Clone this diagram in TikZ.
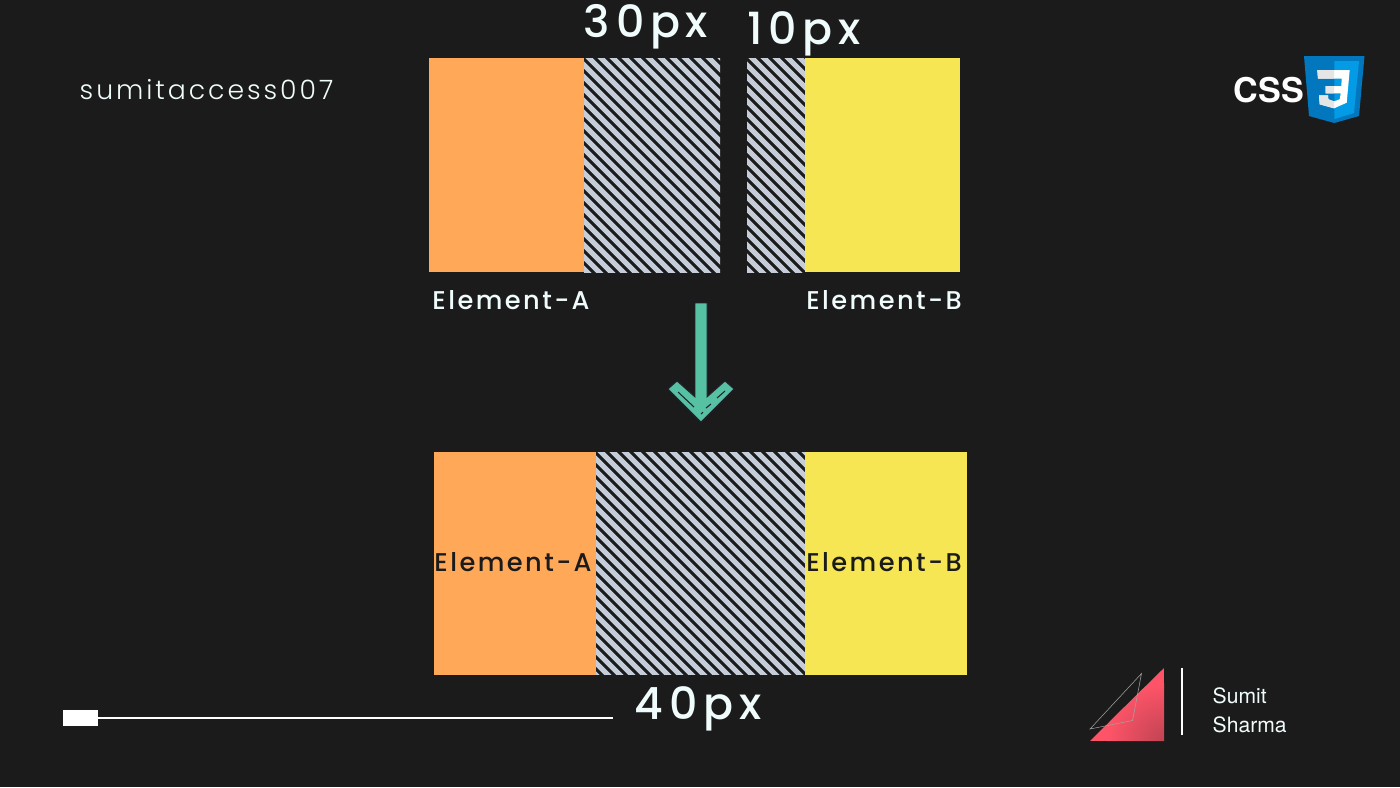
\documentclass[tikz,border=0pt]{standalone}
\usepackage{fontspec}
\setmainfont{Poppins}
\newfontfamily\wideA[LetterSpace=9.5,UprightFont={* Medium}]{Poppins}
\newfontfamily\wideB[LetterSpace=13,UprightFont={* Medium}]{Poppins}
\newfontfamily\wideC[LetterSpace=11,UprightFont={* Light}]{Poppins}
\newfontfamily\plainB{TeX Gyre Heros}
\definecolor{pagedark}{HTML}{1B1B1B}
\definecolor{orangeA}{HTML}{FFA858}
\definecolor{yellowB}{HTML}{F6E654}
\definecolor{stripe}{HTML}{C5CDD8}
\definecolor{arrowgreen}{HTML}{57C1A3}
\definecolor{arrowline}{HTML}{20222F}
\definecolor{cssdark}{HTML}{0277BD}
\definecolor{csslight}{HTML}{039BE5}
\definecolor{redmark}{HTML}{FF5468}
\definecolor{softwhite}{HTML}{F0FBFB}
\usetikzlibrary{calc}
\tikzset{
	block/.style={inner sep=0pt, outer sep=0pt, anchor=north west},
	hatch/.style={block, fill=pagedark, path picture={
		\foreach \i in {-30,...,60}
			\draw[stripe, line width=1.5pt]
			($(path picture bounding box.north west)+(\i*12+#1,-6)$) -- ++(300,300);
	}},
	labeltext/.style={text=softwhite, font=\wideA\fontsize{7.3pt}{9pt}\selectfont, inner sep=0pt},
	sizetext/.style={text=softwhite, font=\wideB\fontsize{12.6pt}{15pt}\selectfont, inner sep=0pt},
}
\begin{document}
\begin{tikzpicture}[x=0.01cm, y=-0.01cm]
	\useasboundingbox[fill=pagedark] (0,0) rectangle (1400,787);
	% top row
	\node[block, fill=orangeA, minimum width=155*0.01cm, minimum height=214*0.01cm] (topA) at (429,58) {};
	\node[hatch=-1, minimum width=136*0.01cm, minimum height=214*0.01cm] (topgapA) at (584,58) {};
	\node[hatch=-1, minimum width=58*0.01cm, minimum height=214*0.01cm] (topgapB) at (747,58) {};
	\node[block, fill=yellowB, minimum width=155*0.01cm, minimum height=214*0.01cm] (topB) at (805,58) {};
	\node[sizetext] (size30) at (646,27) {30px};
	\node[sizetext] (size10) at (804,34) {10px};
	\node[labeltext] (labelA) at (511,300.5) {Element-A};
	\node[labeltext] (labelB) at (884,300.5) {Element-B};
	% bottom row
	\node[block, fill=orangeA, minimum width=162*0.01cm, minimum height=222.5*0.01cm] (lowA) at (434,452) {};
	\node[hatch=-1, minimum width=209*0.01cm, minimum height=222.5*0.01cm] (lowgap) at (596,452) {};
	\node[block, fill=yellowB, minimum width=162*0.01cm, minimum height=222.5*0.01cm] (lowB) at (805,452) {};
	\node[labeltext, text=pagedark] (innerA) at (513,562.5) {Element-A};
	\node[labeltext, text=pagedark] (innerB) at (884,562.5) {Element-B};
	\node[sizetext] (size40) at (698,709) {40px};
	% arrow
	\draw[fill=arrowgreen, draw=arrowline, line width=0.25pt] (695,303) -- (707,303) -- (707,397) -- (725,381) -- (734,389) -- (701,422) -- (668,389) -- (677,381) -- (695,397) -- cycle;
	\draw[arrowline, line width=0.3pt] (678,392) -- (694,407) (717,398) -- (725,391) (706,408) -- (711,404) (701,414) -- (703,412);
	% top left and slider
	\node[text=softwhite, font=\wideC\fontsize{7.6pt}{9pt}\selectfont, inner sep=0pt, anchor=west] (handle) at (79,90) {sumitaccess007};
	\node[block, fill=white, minimum width=35*0.01cm, minimum height=16*0.01cm] (knob) at (63,710) {};
	\coordinate (track) at (613,718);
	\draw[white, line width=0.5pt] (knob.east) -- (track);
	% css logo
	\node[text=white, font=\plainB\bfseries\fontsize{9.7pt}{11pt}\selectfont, inner sep=0pt] (csstext) at (1269,90) {CSS};
	\fill[cssdark] (1304,56) -- (1364.5,56) -- (1359,116) -- (1334.3,123) -- (1309,116) -- cycle;
	\fill[csslight] (1334.3,61) -- (1359,61) -- (1354,113) -- (1334.3,119) -- cycle;
	\fill[white] (1317.3,70) -- (1349.7,70) -- (1346.7,102.7) -- (1334,108.3) -- (1319.7,104.3) -- (1319,95.3) -- (1328,95.3) -- (1328.3,99.3) -- (1334,101.3) -- (1339.7,99.3) -- (1340.7,93.3) -- (1325.7,93.3) -- (1325.7,86) -- (1341.3,86) -- (1341.7,78.7) -- (1318,78.7) -- cycle;
	\fill[white!90!black] (1317.3,70) -- (1334,70) -- (1334,78.7) -- (1318,78.7) -- cycle (1325.7,86) -- (1334,86) -- (1334,93.3) -- (1325.7,93.3) -- cycle (1319,95.3) -- (1328,95.3) -- (1328.3,99.3) -- (1334,101.3) -- (1334,108.3) -- (1319.7,104.3) -- cycle;
	% bottom right mark
	\begin{scope}
		\clip (1090,741) -- (1164,668) -- (1164,741) -- cycle;
		\fill[redmark] (1090,668) rectangle (1164,741);
		\shade[inner color=redmark!72!pagedark, outer color=redmark] (1164,741) circle[radius=58];
	\end{scope}
	\draw[white!60!pagedark, line width=0.15pt] (1090,729) -- (1141.5,673.5) -- (1132.5,720.5) -- cycle;
	\draw[white, line width=0.3pt] (1182,668) -- (1182,735);
	\node[text=softwhite, font=\plainB\fontsize{6pt}{8.2pt}\selectfont, inner sep=0pt, anchor=west, align=left] (author) at (1212,710) {Sumit\\Sharma};
\end{tikzpicture}
\end{document}
